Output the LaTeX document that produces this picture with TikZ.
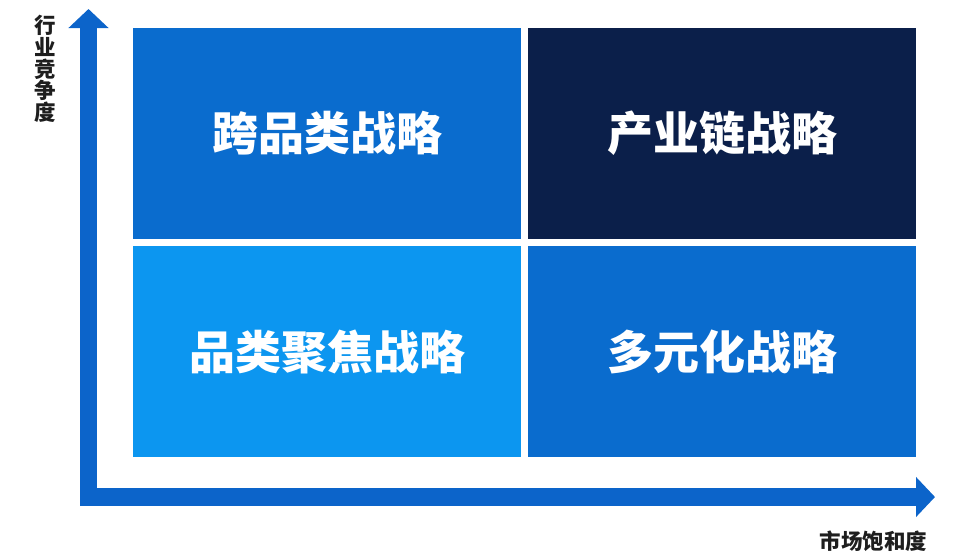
\documentclass[tikz,border=0pt]{standalone}
\usepackage{fontspec}
\usepackage{tikz}
\usetikzlibrary{arrows.meta, positioning}
\newfontfamily\cjk{Noto Sans CJK SC}
\definecolor{MidBlue}{RGB}{10,108,206}
\definecolor{NavyBlue}{RGB}{11,31,74}
\definecolor{SkyBlue}{RGB}{12,150,240}
\definecolor{AxisBlue}{RGB}{12,100,202}
\definecolor{LabelGray}{RGB}{30,30,30}

\begin{document}
\begin{tikzpicture}[
	x=1pt, y=-1pt,
	QuadBox/.style={rectangle, inner sep=0pt, minimum width=388pt, minimum height=211pt,
		text=white, font=\cjk\bfseries\fontsize{46}{46}\selectfont},
	AxisLabel/.style={inner sep=0pt, text=LabelGray, align=center,
		font=\cjk\bfseries\fontsize{21.5}{21.6}\selectfont},
	AxisArrow/.style={draw=AxisBlue, line width=17.5pt, line join=miter,
		{Triangle[length=19pt, width=39pt]}-{Triangle[length=19pt, width=39pt]}}
	]

\useasboundingbox (0,0) rectangle (957,552);

\node [QuadBox, fill=MidBlue] (crossCat) at (327,133.5) {跨品类战略};
\node [QuadBox, fill=NavyBlue] (chain) at (722,133.5) {产业链战略};
\node [QuadBox, fill=SkyBlue] (focus) at (327,351.5) {品类聚焦战略};
\node [QuadBox, fill=MidBlue] (diverse) at (722,351.5) {多元化战略};

\coordinate (origin) at (88.5,497);
\coordinate (yTip) at (88.5,9);
\coordinate (xTip) at (935,497);
\draw [AxisArrow] (yTip) -- (origin) -- (xTip);

\node [AxisLabel] (yLabel) at (45,69) {行\\业\\竞\\争\\度};
\node [AxisLabel] (xLabel) at (873.5,541) {市场饱和度};

\end{tikzpicture}
\end{document}
